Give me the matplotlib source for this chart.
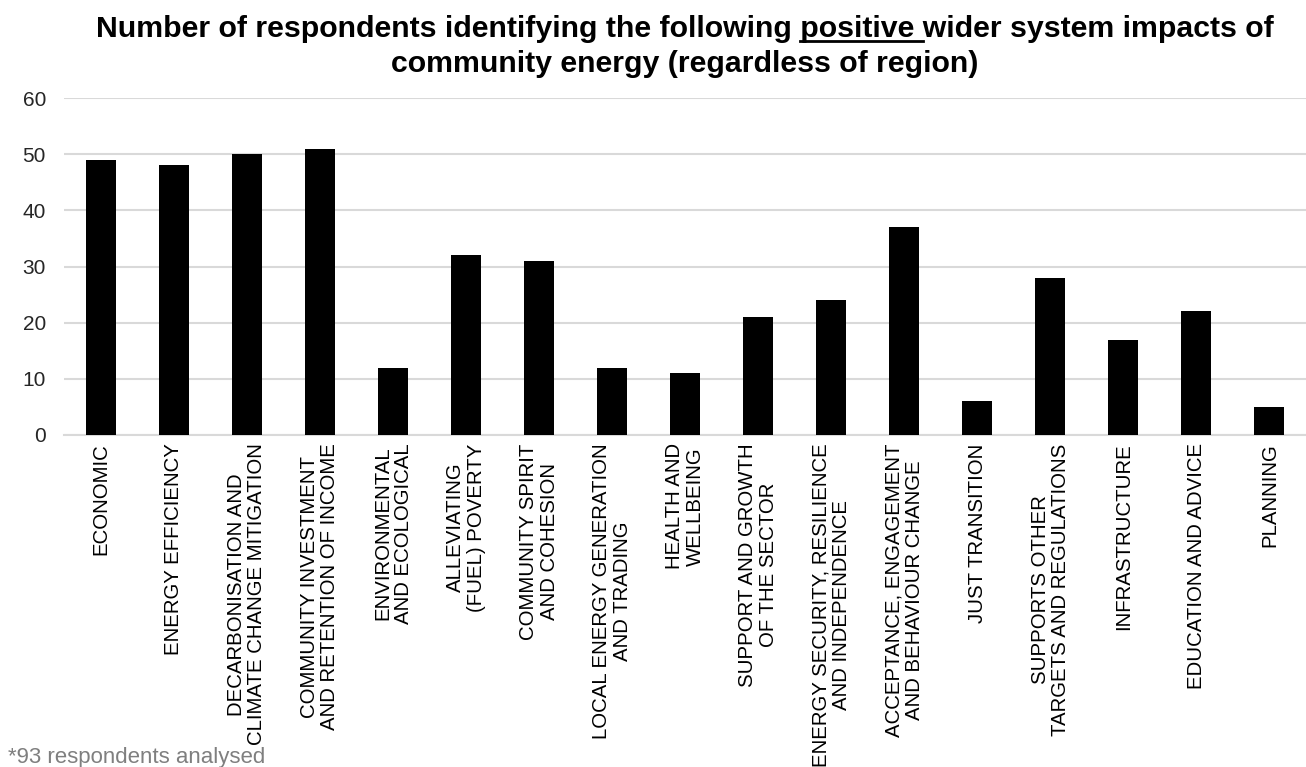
import matplotlib
matplotlib.use("Agg")
import matplotlib.pyplot as plt
from matplotlib.lines import Line2D

plt.rcParams['font.family'] = ['Liberation Sans', 'DejaVu Sans']

categories = [
    "ECONOMIC",
    "ENERGY EFFICIENCY",
    "DECARBONISATION AND\nCLIMATE CHANGE MITIGATION",
    "COMMUNITY INVESTMENT\nAND RETENTION OF INCOME",
    "ENVIRONMENTAL\nAND ECOLOGICAL",
    "ALLEVIATING\n(FUEL) POVERTY",
    "COMMUNITY SPIRIT\nAND COHESION",
    "LOCAL ENERGY GENERATION\nAND TRADING",
    "HEALTH AND\nWELLBEING",
    "SUPPORT AND GROWTH\nOF THE SECTOR",
    "ENERGY SECURITY, RESILIENCE\nAND INDEPENDENCE",
    "ACCEPTANCE, ENGAGEMENT\nAND BEHAVIOUR CHANGE",
    "JUST TRANSITION",
    "SUPPORTS OTHER\nTARGETS AND REGULATIONS",
    "INFRASTRUCTURE",
    "EDUCATION AND ADVICE",
    "PLANNING",
]
values = [49, 48, 50, 51, 12, 32, 31, 12, 11, 21, 24, 37, 6, 28, 17, 22, 5]
yticks = [0, 10, 20, 30, 40, 50, 60]

title_pre = "Number of respondents identifying the following "
title_u = "positive "
title_post = "wider system impacts of"
title_line2 = "community energy (regardless of region)"
footnote = "*93 respondents analysed"

W, H, DPI = 13.06, 7.67, 100
fig = plt.figure(figsize=(W, H), dpi=DPI)
ax = fig.add_axes([64/1306, 1-435/767, (1306-64)/1306, (435-98)/767])

x = list(range(len(categories)))
ax.bar(x, values, width=0.41, color='black', zorder=3)
ax.set_xlim(-0.5, len(categories) - 0.5)
ax.set_ylim(0, 60)
ax.set_yticks(yticks)
ax.set_yticklabels([str(t) for t in yticks], fontsize=15, color='#262626')
ax.set_xticks(x)
ax.set_xticklabels(categories, rotation=90, ha='center', va='top',
                   fontsize=14.7, color='black', linespacing=1.1)
ax.tick_params(axis='both', length=0)
ax.tick_params(axis='x', pad=6)
ax.tick_params(axis='y', pad=13)
ax.grid(axis='y', color='#d9d9d9', linewidth=1.5, zorder=0)
for s in ['top', 'right', 'left']:
    ax.spines[s].set_visible(False)
ax.spines['bottom'].set_color('#d9d9d9')
ax.spines['bottom'].set_linewidth(1.5)

# Title with underlined word
tprops = dict(fontsize=21.8, fontweight='bold', color='black')
full1 = title_pre + title_u + title_post
cx = 685 / 1306
base1 = 1 - 37 / 767
t1 = fig.text(cx, base1, full1, ha='center', va='baseline', **tprops)
fig.text(cx, 1 - 72 / 767, title_line2, ha='center', va='baseline', **tprops)

fig.canvas.draw()
r = fig.canvas.get_renderer()
bb_full = t1.get_window_extent(r)
tmp = fig.text(0, 0, title_pre, **tprops)
w_pre = tmp.get_window_extent(r).width
tmp.set_text(title_pre + title_u)
w_pu = tmp.get_window_extent(r).width
tmp.remove()
x0 = (bb_full.x0 + w_pre) / fig.bbox.width
x1 = (bb_full.x0 + w_pu) / fig.bbox.width
yu = base1 - 3.5 / 767
fig.add_artist(Line2D([x0, x1], [yu, yu], color='black', linewidth=2,
                      transform=fig.transFigure))

fig.text(8 / 1306, 1 - 763 / 767, footnote, ha='left', va='baseline',
         fontsize=16, color='#7f7f7f')

fig.savefig("out.png", dpi=DPI)
